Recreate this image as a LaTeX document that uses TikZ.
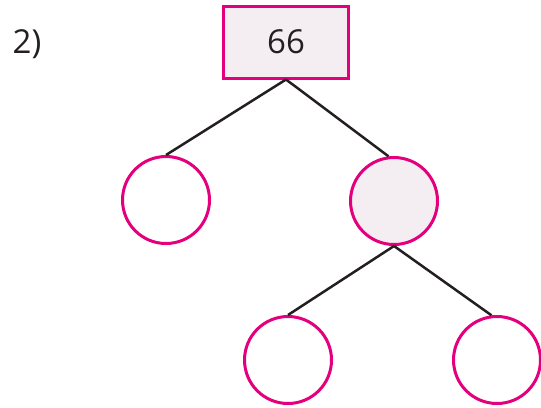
\documentclass[tikz,border=0pt]{standalone}
\usepackage{fontspec}
\setmainfont{Open Sans}
\definecolor{rim}{HTML}{E4007C}
\definecolor{blush}{HTML}{F4EEF3}
\definecolor{ink}{HTML}{231F20}
\begin{document}
\begin{tikzpicture}[x=1bp,y=-1bp,
  numbox/.style={draw=rim,line width=3bp,fill=blush,minimum width=125bp,minimum height=72bp,inner sep=0pt},
  blank/.style={circle,draw=rim,line width=3bp,fill=white,minimum size=87bp,inner sep=0pt},
  branch/.style={draw=ink,line width=2.5bp}]
\useasboundingbox (0,0) rectangle (541,407);
\node[text=ink,font=\fontsize{33bp}{36bp}\selectfont] (lbl) at (27,44) {2)};
\node[numbox,text=ink,font=\fontsize{33bp}{36bp}\selectfont] (top) at (286,42) {66};
\node[blank] (l1) at (166,200) {};
\node[blank,fill=blush] (r1) at (394,201) {};
\node[blank] (l2) at (288,360) {};
\node[blank] (r2) at (497,360) {};
\draw[branch] (top.south) -- (l1.north);
\draw[branch] (top.south) -- (r1.97);
\draw[branch] (r1.south) -- (l2.north);
\draw[branch] (r1.south) -- (r2.97);
\end{tikzpicture}
\end{document}
